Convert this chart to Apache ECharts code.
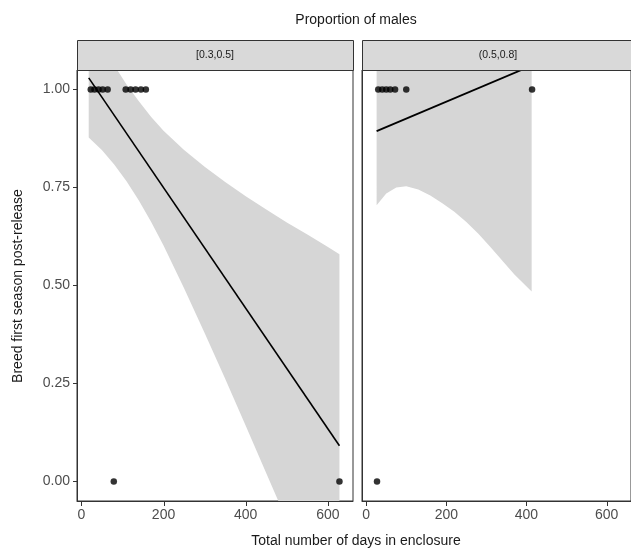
<!DOCTYPE html>
<html>
<head>
<meta charset="utf-8">
<script src="https://cdn.jsdelivr.net/npm/echarts@6/dist/echarts.min.js"></script>
<style>html,body{margin:0;padding:0;background:#fff;}#c{width:631px;height:551px;}</style>
</head>
<body>
<div id="c"></div>
<script>
// ---- data ----
const panelLabels = ['[0.3,0.5]', '(0.5,0.8]'];
const xTicks = [0, 200, 400, 600];
const yTicks = [0, 0.25, 0.5, 0.75, 1];

// panel 1 points
const p1x = [23, 32, 42, 52, 64, 108, 120, 132, 145, 157, 79, 628];
const p1y = [1, 1, 1, 1, 1, 1, 1, 1, 1, 1, 0, 0];
// panel 1 fitted line
const f1x = [18, 628];
const f1y = [1.030, 0.091];
// panel 1 ribbon
const r1x  = [18, 50, 80, 110, 140, 170, 200, 250, 300, 350, 400, 450, 500, 550, 600, 628];
const r1lo = [0.878, 0.846, 0.809, 0.766, 0.717, 0.662, 0.602, 0.493, 0.379, 0.262, 0.142, 0.021, -0.100, -0.223, -0.345, -0.414];
const r1hi = [1.179, 1.118, 1.062, 1.013, 0.970, 0.930, 0.895, 0.846, 0.803, 0.764, 0.728, 0.694, 0.661, 0.630, 0.598, 0.580];

// panel 2 points
const p2x = [30, 40, 50, 60, 72, 100, 414, 27];
const p2y = [1, 1, 1, 1, 1, 1, 1, 0];
// panel 2 fitted line
const f2x = [26, 415];
const f2y = [0.894, 1.062];
// panel 2 ribbon
const r2x  = [26, 50, 75, 100, 130, 160, 190, 220, 250, 280, 310, 340, 370, 413];
const r2lo = [0.705, 0.735, 0.750, 0.753, 0.745, 0.730, 0.710, 0.688, 0.662, 0.632, 0.598, 0.563, 0.528, 0.485];
const r2hi = [1.083, 1.10, 1.12, 1.10, 1.13, 1.17, 1.21, 1.25, 1.30, 1.36, 1.42, 1.48, 1.55, 1.64];

// ---- chart ----
const FONT = 'Liberation Sans';
const YMIN = -0.05, YMAX = 1.05;
const chart = echarts.init(document.getElementById('c'), null, {renderer: 'canvas'});

function ribbonSeries(idx, xs, lo, hi) {
  return {
    type: 'custom', xAxisIndex: idx, yAxisIndex: idx, clip: true, z: 1,
    data: [0], silent: true,
    renderItem: function (params, api) {
      const pts = [];
      for (let i = 0; i < xs.length; i++) pts.push(api.coord([xs[i], hi[i]]));
      for (let i = xs.length - 1; i >= 0; i--) pts.push(api.coord([xs[i], lo[i]]));
      const cs = params.coordSys;
      return {
        type: 'polygon', shape: {points: pts},
        style: {fill: '#d6d6d6', stroke: null},
        clipPath: {type: 'rect', shape: {x: cs.x, y: cs.y, width: cs.width, height: cs.height}}
      };
    }
  };
}
function tickSeries(idx) {
  return {
    type: 'custom', xAxisIndex: idx, yAxisIndex: idx, data: xTicks.map(v => [v, YMIN]),
    clip: false, silent: true, z: 5,
    renderItem: function (params, api) {
      const p = api.coord([api.value(0), api.value(1)]);
      const x = Math.round(p[0]) + 0.5;
      return {type: 'line', shape: {x1: x, y1: p[1], x2: x, y2: p[1] + 5},
        style: {stroke: '#333', lineWidth: 1}};
    }
  };
}
function zip(a, b) { return a.map((v, i) => [v, b[i]]); }

const xAxisBase = (idx) => ({
  type: 'value', gridIndex: idx, min: -10.5, max: 661, position: 'bottom',
  axisLine: {show: true, onZero: false, lineStyle: {color: '#333', width: 1}},
  splitLine: {show: false},
  axisTick: {show: false},
  axisLabel: {show: true, color: '#4d4d4d', fontSize: 14, fontFamily: FONT, margin: 7, customValues: xTicks}
});
const yAxisBase = (idx, labels) => ({
  type: 'value', gridIndex: idx, min: YMIN, max: YMAX, position: 'left',
  axisLine: {show: true, onZero: false, lineStyle: {color: '#333', width: 1}},
  splitLine: {show: false},
  axisTick: {show: labels, inside: false, length: 4, lineStyle: {color: '#333', width: 1}, customValues: yTicks},
  axisLabel: {show: labels, color: '#4d4d4d', fontSize: 14, fontFamily: FONT, margin: 7,
    customValues: yTicks, formatter: v => v.toFixed(2)}
});

const option = {
  animation: false,
  backgroundColor: '#fff',
  grid: [
    {left: 77, top: 70, width: 276, height: 431, show: true, borderColor: '#333', borderWidth: 1, backgroundColor: 'transparent'},
    {left: 362, top: 70, width: 276, height: 431, show: true, borderColor: '#333', borderWidth: 1, backgroundColor: 'transparent'}
  ],
  xAxis: [xAxisBase(0), xAxisBase(1)],
  yAxis: [yAxisBase(0, true), yAxisBase(1, false)],
  graphic: [
    {type: 'rect', left: 77, top: 40, shape: {width: 276, height: 30}, style: {fill: '#d9d9d9', stroke: '#333', lineWidth: 1}, z: 10},
    {type: 'rect', left: 362, top: 40, shape: {width: 276, height: 30}, style: {fill: '#d9d9d9', stroke: '#333', lineWidth: 1}, z: 10},
    {type: 'text', x: 215, y: 55, style: {text: panelLabels[0], fill: '#1a1a1a', font: '10.5px "' + FONT + '"', textAlign: 'center', textVerticalAlign: 'middle'}, z: 11},
    {type: 'text', x: 498, y: 55, style: {text: panelLabels[1], fill: '#1a1a1a', font: '10.5px "' + FONT + '"', textAlign: 'center', textVerticalAlign: 'middle'}, z: 11},
    {type: 'text', x: 356, y: 20, style: {text: 'Proportion of males', fill: '#1a1a1a', font: '14px "' + FONT + '"', textAlign: 'center', textVerticalAlign: 'middle'}, z: 11},
    {type: 'text', x: 356, y: 541, style: {text: 'Total number of days in enclosure', fill: '#1a1a1a', font: '14px "' + FONT + '"', textAlign: 'center', textVerticalAlign: 'middle'}, z: 11},
    {type: 'text', x: 18, y: 286, rotation: Math.PI / 2, style: {text: 'Breed first season post-release', fill: '#1a1a1a', font: '14px "' + FONT + '"', textAlign: 'center', textVerticalAlign: 'middle'}, z: 11}
  ],
  series: [
    ribbonSeries(0, r1x, r1lo, r1hi),
    ribbonSeries(1, r2x, r2lo, r2hi),
    {type: 'line', xAxisIndex: 0, yAxisIndex: 0, data: zip(f1x, f1y), showSymbol: false, symbol: 'none', clip: true,
      lineStyle: {color: '#000', width: 1.6}, z: 3, silent: true},
    {type: 'line', xAxisIndex: 1, yAxisIndex: 1, data: zip(f2x, f2y), showSymbol: false, symbol: 'none', clip: true,
      lineStyle: {color: '#000', width: 1.8}, z: 3, silent: true},
    {type: 'scatter', xAxisIndex: 0, yAxisIndex: 0, data: zip(p1x, p1y), symbolSize: 6.5, itemStyle: {color: '#000'}, z: 4, clip: false},
    {type: 'scatter', xAxisIndex: 1, yAxisIndex: 1, data: zip(p2x, p2y), symbolSize: 6.5, itemStyle: {color: '#000'}, z: 4, clip: false},
    tickSeries(0),
    tickSeries(1)
  ]
};
chart.setOption(option);
</script>
</body>
</html>
